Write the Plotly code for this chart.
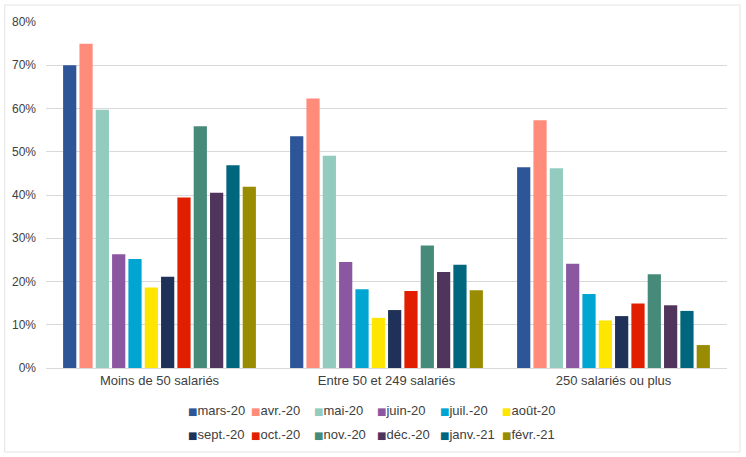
import plotly.graph_objects as go

categories = ["Moins de 50 salariés", "Entre 50 et 249 salariés", "250 salariés ou plus"]
series_names = ["mars-20", "avr.-20", "mai-20", "juin-20", "juil.-20", "août-20",
                "sept.-20", "oct.-20", "nov.-20", "déc.-20", "janv.-21", "févr.-21"]
series_colors = ["#2E5597", "#FF8C7A", "#93CCBF", "#8A57A0", "#00A5D2", "#FFE600",
                 "#1F3158", "#E21E00", "#468B7A", "#4F345C", "#00667E", "#9A8C00"]
mars_20 = [0.70, 0.536, 0.464]
avr_20 = [0.750, 0.623, 0.573]
mai_20 = [0.597, 0.491, 0.462]
juin_20 = [0.263, 0.245, 0.241]
juil_20 = [0.252, 0.182, 0.171]
aout_20 = [0.186, 0.116, 0.110]
sept_20 = [0.211, 0.134, 0.120]
oct_20 = [0.394, 0.178, 0.149]
nov_20 = [0.559, 0.283, 0.217]
dec_20 = [0.405, 0.222, 0.145]
janv_21 = [0.469, 0.239, 0.132]
fevr_21 = [0.419, 0.180, 0.053]
series_values = [mars_20, avr_20, mai_20, juin_20, juil_20, aout_20,
                 sept_20, oct_20, nov_20, dec_20, janv_21, fevr_21]
y_ticks = [0, 0.1, 0.2, 0.3, 0.4, 0.5, 0.6, 0.7, 0.8]
y_tick_labels = ["0%", "10%", "20%", "30%", "40%", "50%", "60%", "70%", "80%"]

W, H = 746, 457
ML, MR, MT, MB = 42, 19, 22, 89
PW = W - ML - MR
PH = H - MT - MB
FONT = "Liberation Sans, Arial, sans-serif"
TXT = "#404040"

fig = go.Figure()
for name, color, vals in zip(series_names, series_colors, series_values):
    fig.add_trace(go.Bar(name=name, x=categories, y=vals, marker_color=color,
                         marker_line_width=0, showlegend=False))

# legend built as annotations (Excel-like compact layout)
annotations = []
for i, (name, color) in enumerate(zip(series_names, series_colors)):
    row, col = divmod(i, 6)
    px = 183 + 63.2 * col
    py = 411 + 23 * row
    annotations.append(dict(
        x=(px - ML) / PW, y=(MT + PH - py) / PH, xref="paper", yref="paper",
        xanchor="left", yanchor="middle", showarrow=False,
        text=f"<span style='color:{color};font-size:10px;font-family:DejaVu Sans'>■</span>{name}",
        font=dict(family=FONT, size=13, color=TXT)))

fig.update_layout(
    width=W, height=H, margin=dict(l=ML, r=MR, t=MT, b=MB),
    paper_bgcolor="white", plot_bgcolor="white",
    barmode="group", bargap=0.137, bargroupgap=0.19,
    font=dict(family=FONT, color=TXT),
    annotations=annotations,
    shapes=[dict(type="rect", xref="paper", yref="paper",
                 x0=(0.5 - ML) / PW, x1=(740 - ML) / PW,
                 y0=(MT + PH - 452) / PH, y1=(MT + PH - 5) / PH,
                 line=dict(color="#E3E3E3", width=1), layer="below")],
    xaxis=dict(showgrid=False, showline=True, linecolor="#D9D9D9", linewidth=1,
               ticks="", tickfont=dict(size=13, color=TXT, family=FONT)),
    yaxis=dict(range=[0, 0.8], tickvals=y_ticks, ticktext=y_tick_labels,
               showgrid=True, gridcolor="#D9D9D9", gridwidth=1, zeroline=False,
               showline=False, ticks="", ticklabelstandoff=9,
               tickfont=dict(size=12, color=TXT, family=FONT)),
)
fig.write_html("out.html")
